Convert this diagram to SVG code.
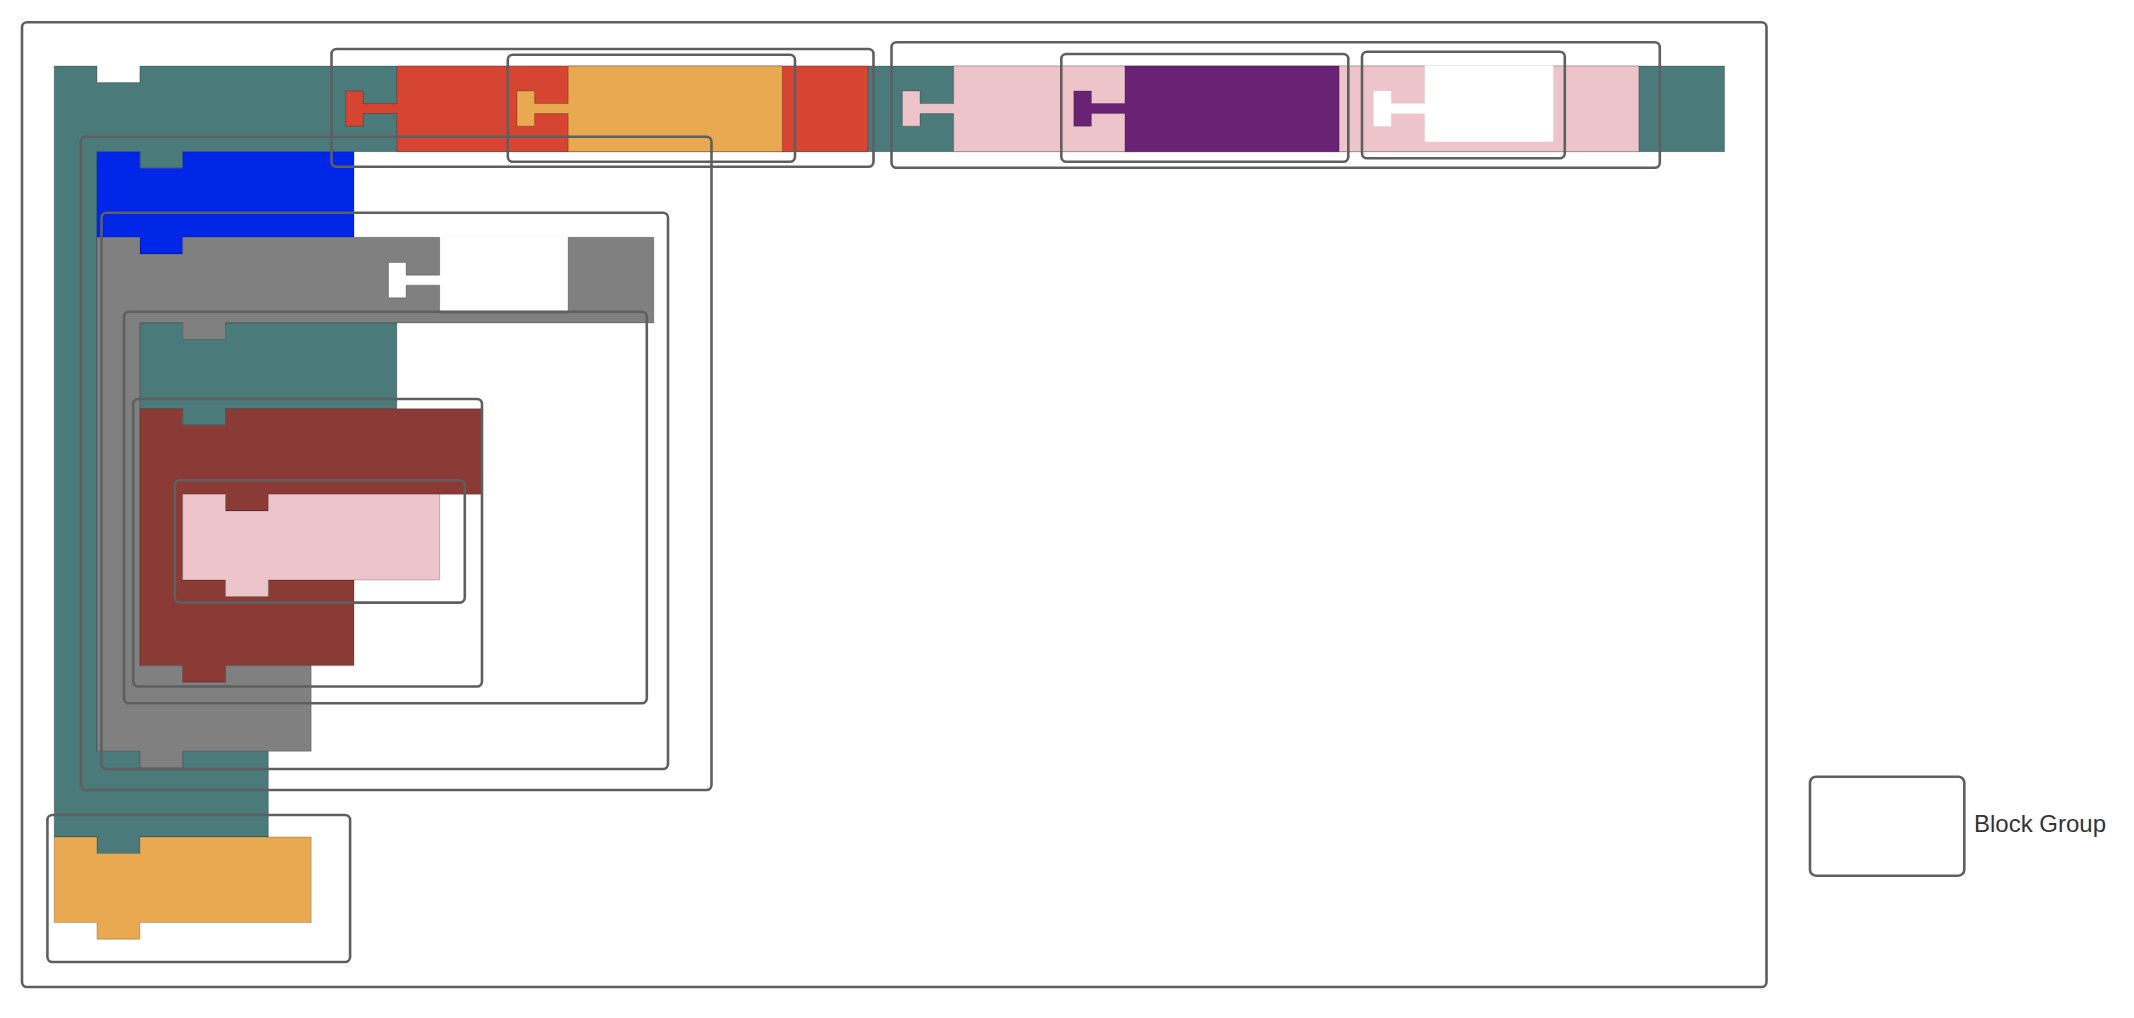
<svg xmlns="http://www.w3.org/2000/svg" width="2134" height="1018" viewBox="0 0 2134 1018">
<style>
.blk{stroke:#000;stroke-opacity:0.22;stroke-width:1}
.teal{fill:#4A7A7A}
.red{fill:#D64531}
.orange{fill:#E8A951}
.pink{fill:#EEC4CB}
.purple{fill:#6A2374}
.blue{fill:#0027E8}
.gray{fill:#808080}
.dred{fill:#8A3B35}
.slot{fill:#FFFFFF}
.grp{fill:none;stroke:#5F5F5F;stroke-width:2.6}
.lbl{font-family:"Liberation Sans",Arial,sans-serif;font-size:24px;fill:#333333}
</style>
<rect width="2134" height="1018" fill="#FFFFFF"/>
<g id="blocks">
<g id="block-teal-outer"><path class="blk teal" d="M54.2,66 H97.03 V82.6 H139.86 V66 H1724.57 V151.66 H182.69 V168.26 H139.86 V151.66 H97.03 V751.28 H268.35 V836.94 H139.86 V853.54 H97.03 V836.94 H54.2 Z"/></g>
<g id="block-red"><path class="blk red" d="M396.84,66 H867.97 V151.66 H396.84 V113.6 H363.3 V126.2 H345.7 V91 H363.3 V103.6 H396.84 Z"/></g>
<g id="block-orange-top"><path class="blk orange" d="M568.16,66 H782.31 V151.66 H568.16 V113.6 H534.6 V126.2 H517 V91 H534.6 V103.6 H568.16 Z"/></g>
<g id="block-pink-top"><path class="blk pink" d="M953.63,66 H1638.91 V151.66 H953.63 V113.6 H920 V126.2 H902.4 V91 H920 V103.6 H953.63 Z"/></g>
<g id="block-purple"><path class="blk purple" d="M1124.95,66 H1339.1 V151.66 H1124.95 V113.6 H1091.4 V126.2 H1073.8 V91 H1091.4 V103.6 H1124.95 Z"/></g>
<g id="slot-top"><path class="slot" d="M1424.76,65.5 H1553.25 V141.7 H1424.76 V113.6 H1391.2 V126.2 H1373.6 V91 H1391.2 V103.6 H1424.76 Z"/></g>
<g id="block-blue"><path class="blk blue" d="M97.03,151.66 H139.86 V168.26 H182.69 V151.66 H354.01 V237.32 H182.69 V253.92 H139.86 V237.32 H97.03 Z"/></g>
<g id="block-gray"><path class="blk gray" d="M97.03,237.32 H139.86 V253.92 H182.69 V237.32 H653.82 V322.98 H225.52 V339.58 H182.69 V322.98 H139.86 V665.62 H182.69 V682.22 H225.52 V665.62 H311.18 V751.28 H182.69 V767.88 H139.86 V751.28 H97.03 Z"/></g>
<g id="slot-gray"><path class="slot" d="M439.67,236.8 H568.16 V313 H439.67 V285.15 H406.1 V297.8 H388.5 V262.5 H406.1 V275.15 H439.67 Z"/><path d="M439.67,237.3 V275.15 H406.1 V262.5 H388.5 V297.8 H406.1 V285.15 H439.67 V313 H568.16 V237.3" fill="none" stroke="#000" stroke-opacity="0.25" stroke-width="1"/></g>
<g id="block-teal-inner"><path class="blk teal" d="M139.86,322.98 H182.69 V339.58 H225.52 V322.98 H396.84 V408.64 H225.52 V425.24 H182.69 V408.64 H139.86 Z"/></g>
<g id="block-darkred"><path class="blk dred" d="M139.86,408.64 H182.69 V425.24 H225.52 V408.64 H482.5 V494.3 H268.35 V510.9 H225.52 V494.3 H182.69 V579.96 H225.52 V596.56 H268.35 V579.96 H354.01 V665.62 H225.52 V682.22 H182.69 V665.62 H139.86 Z"/></g>
<g id="block-pink-inner"><path class="blk pink" d="M182.69,494.3 H225.52 V510.9 H268.35 V494.3 H439.67 V579.96 H268.35 V596.56 H225.52 V579.96 H182.69 Z"/></g>
<g id="block-orange-bottom"><path class="blk orange" d="M54.2,836.94 H97.03 V853.54 H139.86 V836.94 H311.18 V922.6 H139.86 V939.2 H97.03 V922.6 H54.2 Z"/></g>
</g>
<g id="groups">
<g id="group-outer"><rect class="grp" x="22" y="22.3" width="1744.5" height="964.7" rx="5"/></g>
<g id="group-red"><rect class="grp" x="331.5" y="49" width="542" height="117.7" rx="5"/></g>
<g id="group-orange-top"><rect class="grp" x="507.8" y="54.7" width="287.2" height="107" rx="5"/></g>
<g id="group-pink-top"><rect class="grp" x="891.5" y="42.3" width="768.3" height="125.4" rx="5"/></g>
<g id="group-purple"><rect class="grp" x="1061.3" y="54" width="287" height="107.7" rx="5"/></g>
<g id="group-slot"><rect class="grp" x="1362" y="51.7" width="202.8" height="106.6" rx="5"/></g>
<g id="group-blue"><rect class="grp" x="80.8" y="136.7" width="630.7" height="653.3" rx="5"/></g>
<g id="group-gray"><rect class="grp" x="101.5" y="212.7" width="566.5" height="556.3" rx="5"/></g>
<g id="group-teal-inner"><rect class="grp" x="124" y="311.7" width="522.8" height="391.6" rx="5"/></g>
<g id="group-darkred"><rect class="grp" x="133.2" y="399" width="348.8" height="287.5" rx="5"/></g>
<g id="group-pink-inner"><rect class="grp" x="174.8" y="480.3" width="290" height="122.3" rx="5"/></g>
<g id="group-orange-bottom"><rect class="grp" x="47.4" y="815" width="302.7" height="147" rx="5"/></g>
</g>
<g id="legend">
<rect class="grp" x="1810" y="776.7" width="154.3" height="99" rx="6"/>
<text class="lbl" x="1974" y="832">Block Group</text>
</g>
</svg>
